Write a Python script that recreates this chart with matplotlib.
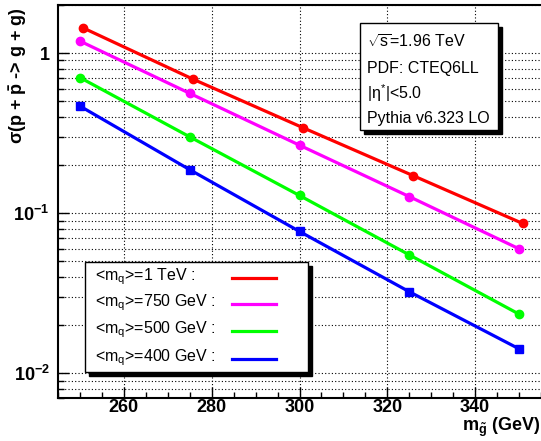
import matplotlib
matplotlib.use("Agg")
import matplotlib.pyplot as plt
from matplotlib.lines import Line2D
from matplotlib.patches import Rectangle
from matplotlib.ticker import FixedLocator, MultipleLocator, NullFormatter

plt.rcParams['font.family'] = ['Liberation Sans', 'DejaVu Sans']
plt.rcParams['mathtext.fontset'] = 'custom'
plt.rcParams['mathtext.rm'] = 'Liberation Sans'
plt.rcParams['mathtext.it'] = 'Liberation Sans:italic'
plt.rcParams['mathtext.bf'] = 'Liberation Sans:bold'
plt.rcParams['mathtext.default'] = 'regular'

# gluino masses (GeV); the 1 TeV curve sits a bit to the right in the original
m_gluino = [250, 275, 300, 325, 350]
m_gluino_red = [250.8, 275.8, 300.8, 325.8, 350.8]

xs_1tev = [1.435, 0.687, 0.342, 0.172, 0.0863]
xs_750 = [1.19, 0.561, 0.266, 0.127, 0.0599]
xs_500 = [0.704, 0.300, 0.129, 0.0549, 0.0234]
xs_400 = [0.467, 0.187, 0.0769, 0.0323, 0.0142]

labels = [r"<m$_{q}$>=1 TeV :", r"<m$_{q}$>=750 GeV :",
          r"<m$_{q}$>=500 GeV :", r"<m$_{q}$>=400 GeV :"]
colors = ['#ff0000', '#ff00ff', '#00ff00', '#0000ff']

W, H = 541, 441
fig = plt.figure(figsize=(W / 100, H / 100), dpi=100)


def fx(px):
    return px / W


def fy(py):
    return 1 - py / H


ax = fig.add_axes([fx(58), fy(398), fx(541 - 58), (398 - 5) / H])

series = [(m_gluino_red, xs_1tev, 'o'), (m_gluino, xs_750, 'o'),
          (m_gluino, xs_500, 'o'), (m_gluino, xs_400, 's')]
for (x, y, mk), c in zip(series, colors):
    ax.plot(x, y, color=c, lw=2.3, marker=mk, ms=6, mec=c, zorder=3)

ax.set_yscale('log')
ax.set_xlim(245, 355)
ax.set_ylim(0.007, 2.0)

ax.xaxis.set_major_locator(FixedLocator([260, 280, 300, 320, 340]))
ax.xaxis.set_minor_locator(MultipleLocator(5))
ax.set_xticks([260, 280, 300, 320, 340], labels=['260', '280', '300', '320', '340'])
ax.set_yticks([0.01, 0.1, 1], labels=[r"$\mathbf{10^{-2}}$", r"$\mathbf{10^{-1}}$", "1"])
ax.yaxis.set_minor_formatter(NullFormatter())
for lab in ax.get_xticklabels() + ax.get_yticklabels():
    lab.set_fontweight('bold')
    lab.set_fontsize(13)

ax.tick_params(which='both', direction='in', top=False, right=False, width=1)
ax.tick_params(which='major', length=8)
ax.tick_params(which='minor', length=4)
ax.tick_params(axis='x', pad=0.5)
ax.tick_params(axis='y', pad=6)

ax.grid(True, which='major', axis='x', color='black', ls=(0, (1, 2)), lw=0.8)
ax.grid(True, which='both', axis='y', color='black', ls=(0, (1, 2)), lw=0.8)

for s in ['left', 'bottom', 'top']:
    ax.spines[s].set_linewidth(1.5)
ax.spines['right'].set_visible(False)

fig.text(fx(18), fy(7), r"$\sigma$(p + $\bar{p}$ -> g + g)", rotation=90,
         ha='center', va='top', fontsize=13, fontweight='bold')
fig.text(fx(540), fy(431), r"m$_{\tilde{g}}$ (GeV)", ha='right', va='baseline',
         fontsize=13, fontweight='bold')


def pave(x0, y0, x1, y1, shadow=4):
    fig.patches.append(Rectangle((fx(x0 + shadow), fy(y1 + shadow)), fx(x1 - x0), (y1 - y0) / H,
                                 transform=fig.transFigure, facecolor='black',
                                 edgecolor='black', zorder=5))
    fig.patches.append(Rectangle((fx(x0), fy(y1)), fx(x1 - x0), (y1 - y0) / H,
                                 transform=fig.transFigure, facecolor='white',
                                 edgecolor='black', lw=1, zorder=6))


# info box
pave(360, 23, 498, 130)
info = [r"$\sqrt{s}$=1.96 TeV", "PDF: CTEQ6LL", r"|$\eta^{*}$|<5.0", "Pythia v6.323 LO"]
info_y = [42, 69, 93, 118]
for t, yy in zip(info, info_y):
    fig.text(fx(367), fy(yy), t, ha='left', va='center', fontsize=11.5, zorder=7)

# legend
pave(85, 262, 308, 372)
leg_y = [277, 303, 330, 358]
for t, c, yy in zip(labels, colors, leg_y):
    fig.text(fx(95), fy(yy), t, ha='left', va='center', fontsize=11.5, zorder=7)
    fig.lines.append(Line2D([fx(232), fx(276)], [fy(yy + 1), fy(yy + 1)], color=c, lw=2.3,
                            transform=fig.transFigure, zorder=7))

fig.savefig('out.png', dpi=100)
